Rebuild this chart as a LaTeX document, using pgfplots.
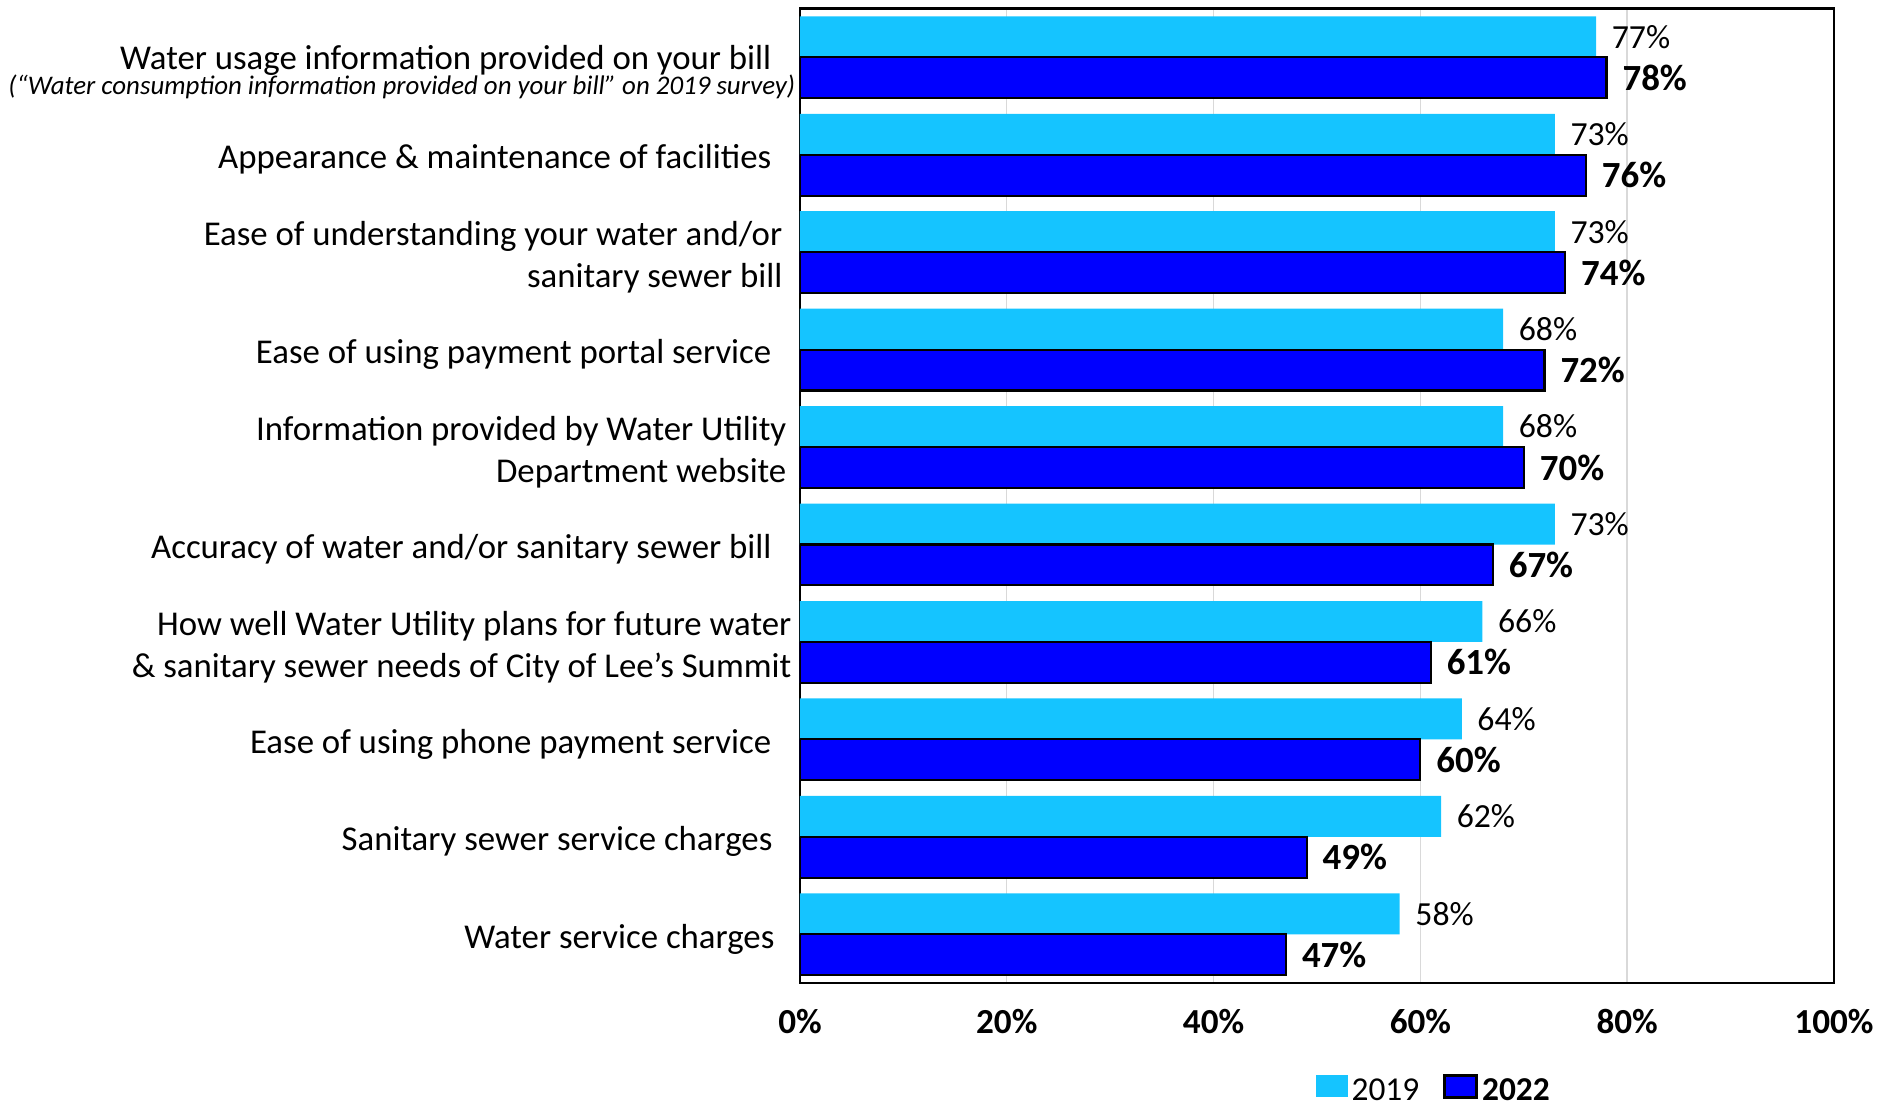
\documentclass[border=0pt]{standalone}
\usepackage{pgfplots}
\pgfplotsset{compat=1.18}
\usepackage{fontspec}
\setmainfont{Carlito}
\definecolor{lightbar}{RGB}{21,196,255}
\definecolor{darkbar}{RGB}{0,0,255}
\definecolor{gridgray}{RGB}{217,217,217}
\pgfplotstableread{
cat v2019 v2022
0 77 78
1 73 76
2 73 74
3 68 72
4 68 70
5 73 67
6 66 61
7 64 60
8 62 49
9 58 47
}\datatable
\begin{document}
\begin{tikzpicture}
\path[use as bounding box] (-8.00cm,-1.24cm) rectangle (10.93cm,9.83cm);
\begin{axis}[
  at={(0,0)}, anchor=south west,
  scale only axis,
  width=10.34cm, height=9.745cm,
  xbar,
  xmin=0, xmax=100,
  ymin=-0.5, ymax=9.5,
  y dir=reverse,
  /pgf/number format/assume math mode=true,
  bar width=0.42,
  xtick={0,20,40,60,80,100},
  xticklabels={0\%,20\%,40\%,60\%,80\%,100\%},
  xticklabel style={font=\bfseries\fontsize{10}{12}\selectfont, anchor=base, yshift=-0.50cm},
  ytick={0,1,2,3,4,5,6,7,8,9},
  yticklabels={
    {\rule{0pt}{12.5pt}Water usage information provided on your bill\hspace*{0.24cm}\\[-4.9pt]{\fontsize{7.65}{8}\selectfont\itshape (“Water consumption information provided on your bill” on 2019 survey)}},
    {Appearance \& maintenance of facilities\hspace*{0.24cm}},
    {Ease of understanding your water and/or\hspace*{0.13cm}\\sanitary sewer bill\hspace*{0.13cm}},
    {Ease of using payment portal service\hspace*{0.24cm}},
    {Information provided by Water Utility\hspace*{0.09cm}\\Department website\hspace*{0.09cm}},
    {Accuracy of water and/or sanitary sewer bill\hspace*{0.24cm}},
    {How well Water Utility plans for future water\hspace*{0.04cm}\\\& sanitary sewer needs of City of Lee's Summit\hspace*{0.04cm}},
    {Ease of using phone payment service\hspace*{0.24cm}},
    {Sanitary sewer service charges\hspace*{0.23cm}},
    {Water service charges\hspace*{0.21cm}}
  },
  yticklabel style={font=\fontsize{9.9}{12}\selectfont, align=right, anchor=east, inner xsep=0pt, xshift=-0.04cm, yshift=-0.05cm},
  major tick length=0pt,
  xmajorgrids,
  major grid style={gridgray, line width=0.4pt},
  axis line style={black, line width=0.8pt},
  nodes near coords={\pgfmathprintnumber{\pgfplotspointmeta}\%},
  legend style={at={(0.498,-0.1095)}, anchor=west, draw=none, fill=none,
    legend columns=2, inner sep=0pt, font=\fontsize{9.5}{11}\selectfont,
    nodes={inner xsep=0.04cm, inner ysep=0pt},
    /tikz/every even column/.append style={column sep=0.2cm}},
  legend cell align=left,
]
\addplot[draw=none, fill=lightbar, bar shift=-0.21,
  nodes near coords style={anchor=west, inner sep=0pt, xshift=0.15cm, font=\fontsize{9.6}{11}\selectfont, black},
  legend image code/.code={\fill[lightbar] (0cm,-0.05cm) rectangle (0.32cm,0.17cm);}]
  table[x=v2019, y=cat] {\datatable};
\addlegendentry{2019}
\addplot[draw=black, line width=0.6pt, fill=darkbar, bar shift=0.21,
  nodes near coords style={anchor=west, inner sep=0pt, xshift=0.15cm, font=\bfseries\fontsize{10.5}{12}\selectfont, black},
  legend image code/.code={\draw[black, line width=0.8pt, fill=darkbar] (0cm,-0.05cm) rectangle (0.32cm,0.17cm);}]
  table[x=v2022, y=cat] {\datatable};
\addlegendentry{\textbf{2022}}
\end{axis}
\end{tikzpicture}
\end{document}
